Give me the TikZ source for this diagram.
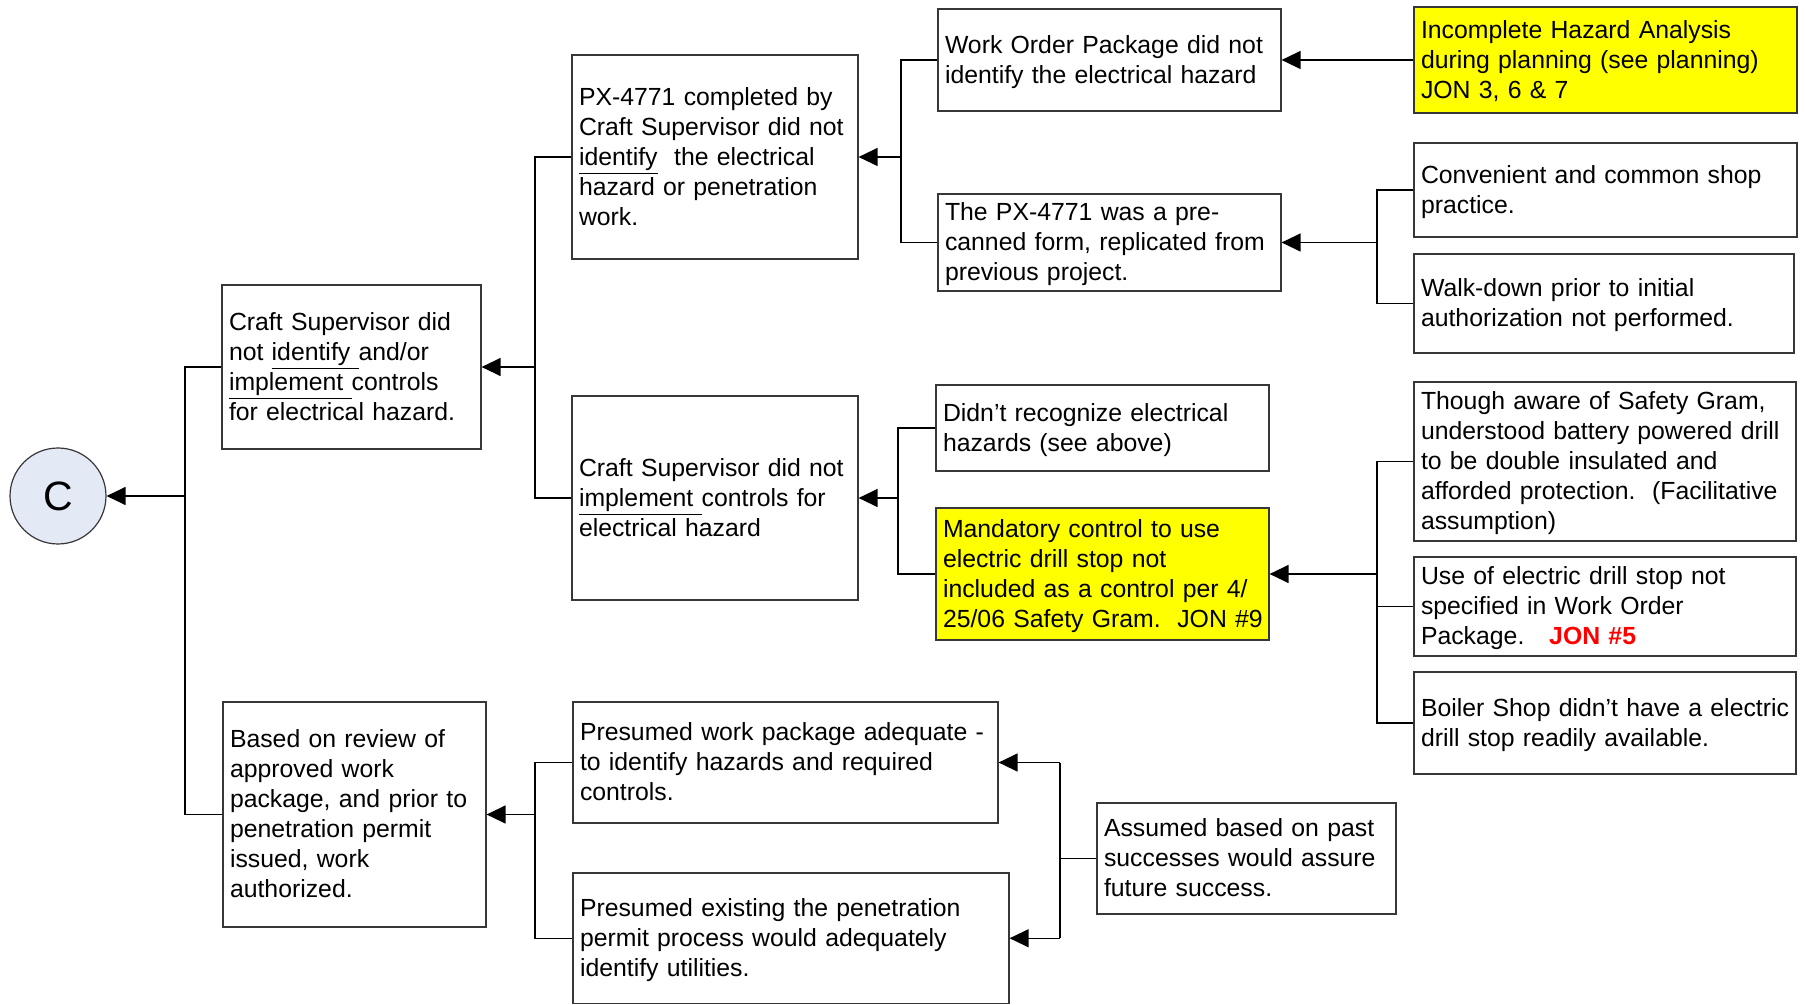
\documentclass[tikz,border=0pt]{standalone}
\usepackage{fontspec}
\setmainfont{Liberation Sans}
\usetikzlibrary{arrows.meta,calc}

\definecolor{hilite}{RGB}{255,255,0}
\definecolor{circfill}{RGB}{227,234,246}
\definecolor{edge}{RGB}{55,55,55}
\definecolor{jonred}{RGB}{255,0,0}

\tikzset{
  cbox/.style={draw=edge, line width=0.6pt, inner xsep=3.5pt, inner ysep=0pt,
    align=left, anchor=center, font=\fontsize{12.4}{15}\selectfont},
  link/.style={draw=black, line width=0.65pt},
  arr/.style={-{Triangle[length=9.5pt,width=9pt]}},
}

% box given by its corners (x1,y1)-(x2,y2); text left aligned, vertically centred
% (a taller first row lets the lines sit slightly below the middle)
\newcommand\causebox[7][white]{%
  \pgfmathsetmacro\cbw{(#5-#3)*0.5}%
  \pgfmathsetmacro\cbh{(#6-#4)*0.5}%
  \pgfmathsetmacro\cbt{(#5-#3)*0.5-7}%
  \node[cbox, fill=#1, minimum width=\cbw pt, minimum height=\cbh pt, text width=\cbt pt]
    (#2) at ({(#3+#5)/2},{(#4+#6)/2}) {\begin{tabular}{@{}l@{}}\rule{0pt}{12.9pt}#7\end{tabular}};%
}

\begin{document}
\frenchspacing
\begin{tikzpicture}[x=0.5pt,y=-0.5pt]
\useasboundingbox (0,0) rectangle (1805,1005);
\fill[white] (0,0) rectangle (1805,1005);

% root event
\node[circle, draw=edge, line width=0.6pt, fill=circfill, minimum size=48pt, inner sep=0pt,
      font=\fontsize{20.5}{24}\selectfont] (C) at (58,496) {C};

% first level
\causebox{b1}{222}{285}{481}{449}{Craft Supervisor did\\not \underline{identify }and/or\\\underline{implement }controls\\for electrical hazard.}
\causebox{based}{223}{702}{486}{927}{Based on review of\\approved work\\package, and prior to\\penetration permit\\issued, work\\authorized.}

% second level
\causebox{px}{572}{55}{858}{259}{PX-4771 completed by\\Craft Supervisor did not\\\underline{identify}\ \ the electrical\\hazard or penetration\\work.}
\causebox{impl}{572}{396}{858}{600}{Craft Supervisor did not\\\underline{implement }controls for\\electrical hazard}
\causebox{pwp}{573}{702}{998}{823}{Presumed work package adequate -\\to identify hazards and required\\controls.}
\causebox{pe}{573}{873}{1009}{1003.5}{Presumed existing the penetration\\permit process would adequately\\identify utilities.}

% third level
\causebox{wo}{938}{9}{1281}{111}{Work Order Package did not\\identify the electrical hazard}
\causebox{pc}{938}{194}{1281}{291}{The PX-4771 was a pre-\\canned form, replicated from\\previous project.}
\causebox{dr}{936}{385}{1269}{471}{Didn’t recognize electrical\\hazards (see above)}
\causebox[hilite]{mand}{936}{508}{1269}{640}{Mandatory control to use\\electric drill stop not\\included as a control per 4/\\25/06 Safety Gram.\ \ JON \#9}
\causebox{assumed}{1097}{803}{1396}{914}{Assumed based on past\\successes would assure\\future success.}

% fourth level
\causebox[hilite]{iha}{1414}{7}{1797}{113}{Incomplete Hazard Analysis\\during planning (see planning)\\JON 3, 6 \& 7}
\causebox{conv}{1414}{143}{1797}{237}{Convenient and common shop\\practice.}
\causebox{walk}{1414}{254}{1794}{353}{Walk-down prior to initial\\authorization not performed.}
\causebox{though}{1414}{382}{1796}{541}{Though aware of Safety Gram,\\understood battery powered drill\\to be double insulated and\\afforded protection.\ \ (Facilitative\\assumption)}
\causebox{use}{1414}{557}{1796}{656}{Use of electric drill stop not\\specified in Work Order\\Package.\ \ \ {\color{jonred}\bfseries JON \#5}}
\causebox{boiler}{1414}{672}{1796}{774}{Boiler Shop didn’t have a electric\\drill stop readily available.}

% junction columns
\coordinate (jA) at (185,0);
\coordinate (jB) at (535,0);
\coordinate (jC) at (901,0);
\coordinate (jE) at (1377,0);
\coordinate (jF) at (898,0);
\coordinate (jG) at (1377,0);
\coordinate (jH) at (535,0);
\coordinate (jI) at (1060,0);

% into C
\draw[link] (b1.west) -| (jA |- C.center);
\draw[link] (based.west) -| (jA |- C.center);
\draw[link,arr] (jA |- C.center) -- (C);

% into b1
\draw[link] (px.west) -| (jB |- b1.east);
\draw[link] (impl.west) -| (jB |- b1.east);
\draw[link,arr] (jB |- b1.east) -- (b1.east);

% into px
\draw[link] (wo.west) -| (jC |- px.east);
\draw[link] (pc.west) -| (jC |- px.east);
\draw[link,arr] (jC |- px.east) -- (px.east);

% into wo
\draw[link,arr] (iha.west) -- (wo.east);

% into pc
\draw[link] (conv.west) -| (jE |- pc.east);
\draw[link] (walk.west) -| (jE |- pc.east);
\draw[link,arr] (jE |- pc.east) -- (pc.east);

% into impl
\draw[link] (dr.west) -| (jF |- impl.east);
\draw[link] (mand.west) -| (jF |- impl.east);
\draw[link,arr] (jF |- impl.east) -- (impl.east);

% into mand
\draw[link] (though.west) -| (jG |- mand.east);
\draw[link] (use.west) -| (jG |- mand.east);
\draw[link] (boiler.west) -| (jG |- mand.east);
\draw[link,arr] (jG |- mand.east) -- (mand.east);

% into based
\draw[link] (pwp.west) -| (jH |- based.east);
\draw[link] (pe.west) -| (jH |- based.east);
\draw[link,arr] (jH |- based.east) -- (based.east);

% from assumed into pwp and pe
\draw[link] (assumed.west) -- (jI |- assumed.west);
\draw[link] (jI |- pwp.east) -- (jI |- pe.east);
\draw[link,arr] (jI |- pwp.east) -- (pwp.east);
\draw[link,arr] (jI |- pe.east) -- (pe.east);

\end{tikzpicture}
\end{document}
